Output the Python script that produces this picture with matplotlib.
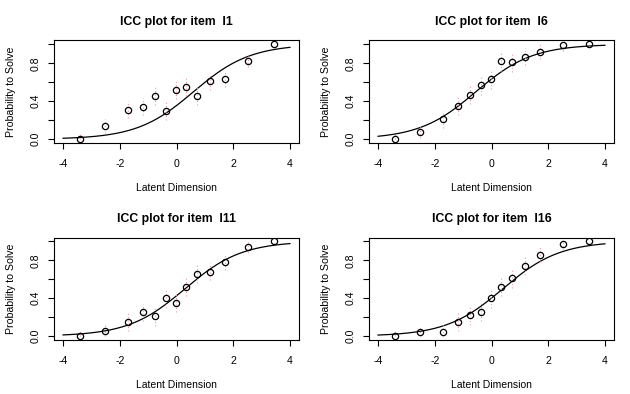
import numpy as np
import matplotlib
matplotlib.use("Agg")
import matplotlib.pyplot as plt

plt.rcParams['font.family'] = ['Liberation Sans', 'DejaVu Sans']

items = ["I1", "I6", "I11", "I16"]
difficulty = [0.6, -0.55, 0.3, 0.4]
theta = [-3.39, -2.53, -1.72, -1.18, -0.76, -0.37, -0.02, 0.35, 0.74, 1.17, 1.72, 2.53, 3.43]
obs_I1 = [0.00, 0.14, 0.31, 0.34, 0.46, 0.30, 0.52, 0.55, 0.46, 0.61, 0.63, 0.82, 1.00]
obs_I6 = [0.00, 0.08, 0.21, 0.35, 0.47, 0.57, 0.63, 0.82, 0.81, 0.87, 0.92, 0.99, 1.00]
obs_I11 = [0.00, 0.05, 0.15, 0.25, 0.21, 0.40, 0.35, 0.52, 0.66, 0.68, 0.78, 0.94, 1.00]
obs_I16 = [0.00, 0.04, 0.04, 0.15, 0.22, 0.26, 0.40, 0.52, 0.61, 0.74, 0.86, 0.97, 1.00]
ci_half = [0.05, 0.07, 0.09, 0.09, 0.10, 0.10, 0.10, 0.10, 0.10, 0.09, 0.08, 0.06, 0.03]
observed = [obs_I1, obs_I6, obs_I11, obs_I16]

W, H = 630, 394
fig = plt.figure(figsize=(W / 100, H / 100), dpi=100)

# axes rectangles in pixels: left, top, right, bottom
boxes = [(54, 40.5, 299, 143), (369, 40.5, 614, 143),
         (54, 237.5, 299, 340), (369, 237.5, 614, 340)]

grid = np.linspace(-4, 4, 200)
for k, (item, b, obs) in enumerate(zip(items, difficulty, observed)):
    l, t, r, bt = boxes[k]
    ax = fig.add_axes([l / W, 1 - bt / H, (r - l) / W, (bt - t) / H])
    curve = 1 / (1 + np.exp(-(grid - b)))
    ax.plot(grid, curve, color='black', lw=0.9)
    obs = np.array(obs)
    th = np.array(theta)
    ci = np.array(ci_half)
    lo = np.clip(obs - ci, 0, 1)
    hi = np.clip(obs + ci, 0, 1)
    ax.vlines(th, lo, hi, colors='#e8a0a8', linestyles=(0, (1, 2)), lw=0.8)
    ax.plot(th, obs, 'o', mfc='none', mec='black', ms=4.5, mew=0.9)
    ax.set_xlim(-4.32, 4.32)
    ax.set_ylim(-0.04, 1.04)
    ax.set_xticks([-4, -2, 0, 2, 4])
    ax.set_xticklabels(['-4', '-2', '0', '2', '4'])
    ax.set_yticks([0, 0.2, 0.4, 0.6, 0.8, 1.0])
    ax.set_yticklabels(['0.0', '', '0.4', '', '0.8', ''], rotation=90, va='center')
    ax.tick_params(direction='out', length=4.5, width=0.8, labelsize=7.6)
    ax.tick_params(axis='x', pad=7)
    ax.tick_params(axis='y', pad=5)
    for s in ax.spines.values():
        s.set_linewidth(0.8)
    ax.set_title(f"ICC plot for item  {item}", fontsize=8.8, fontweight='bold', pad=11)
    ax.set_xlabel("Latent Dimension", fontsize=7.5, labelpad=10)
    ax.set_ylabel("Probability to Solve", fontsize=7.6, labelpad=11)

fig.savefig("out.png", dpi=100, facecolor='white')
